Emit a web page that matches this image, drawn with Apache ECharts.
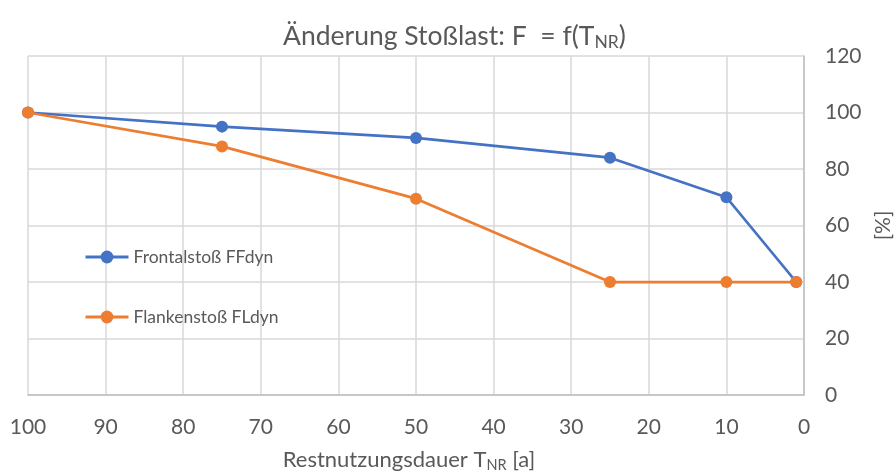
<!DOCTYPE html>
<html>
<head>
<meta charset="utf-8">
<title>Änderung Stoßlast</title>
<script src="https://cdn.jsdelivr.net/npm/echarts@6/dist/echarts.min.js"></script>
<style>
  html, body { margin: 0; padding: 0; background: #ffffff; }
  #chart { width: 894px; height: 472px; }
</style>
</head>
<body>
<div id="chart"></div>
<script>
// Restnutzungsdauer T_NR [a] at which the impact load was evaluated
const restnutzung = [100, 75, 50, 25, 10, 1];
// Stoßlast relative to the new state [%]
const frontalstoss = [100, 95, 91, 84, 70, 40];
const flankenstoss = [100, 88, 69.5, 40, 40, 40];

const seriesNames = ['Frontalstoß FFdyn', 'Flankenstoß FLdyn'];
const seriesColors = ['#4472C4', '#ED7D31'];

const FONT = 'Lato';
const TEXT = '#595959';

function pairs(xs, ys) {
  return xs.map((x, i) => [x, ys[i]]);
}

const chart = echarts.init(document.getElementById('chart'), null, { renderer: 'canvas' });

chart.setOption({
  animation: false,
  backgroundColor: '#ffffff',
  textStyle: { fontFamily: FONT, color: TEXT },
  title: {
    text: '{m|Änderung Stoßlast: F  = f(T}{s|NR}{m|)}',
    left: 278,
    top: 16,
    textStyle: {
      fontWeight: 'normal',
      rich: {
        m: { fontFamily: FONT, fontSize: 26.5, fontWeight: 'normal', color: TEXT, lineHeight: 30 },
        s: { fontFamily: FONT, fontSize: 17.5, fontWeight: 'normal', color: TEXT, lineHeight: 30, verticalAlign: 'bottom' }
      }
    }
  },
  legend: {
    orient: 'vertical',
    left: 79,
    top: 242,
    itemWidth: 43,
    itemHeight: 16,
    itemGap: 40,
    data: seriesNames,
    lineStyle: { width: 3 },
    textStyle: { fontFamily: FONT, fontSize: 17.5, color: TEXT, lineHeight: 20 }
  },
  grid: { left: 28, right: 90, top: 56, bottom: 77, containLabel: false, outerBoundsMode: 'none' },
  xAxis: {
    type: 'value',
    min: 0,
    max: 100,
    interval: 10,
    inverse: true,
    name: '{m|Restnutzungsdauer T}{s|NR}{m| [a]}',
    nameLocation: 'middle',
    nameGap: 52,
    nameTextStyle: {
      padding: [0, 14, 0, 0],
      rich: {
        m: { fontFamily: FONT, fontSize: 22, color: TEXT, lineHeight: 26 },
        s: { fontFamily: FONT, fontSize: 14.5, color: TEXT, lineHeight: 26, verticalAlign: 'bottom' }
      }
    },
    axisLine: { show: true, lineStyle: { color: '#bfbfbf', width: 1.5 } },
    axisTick: { show: false },
    axisLabel: { margin: 22, fontFamily: FONT, fontSize: 21, color: TEXT },
    splitLine: { show: true, lineStyle: { color: '#d9d9d9', width: 1.5 } }
  },
  yAxis: {
    type: 'value',
    position: 'right',
    min: 0,
    max: 120,
    interval: 20,
    name: '[%]',
    nameLocation: 'middle',
    nameRotate: 90,
    nameGap: 69,
    nameTextStyle: { fontFamily: FONT, fontSize: 21, color: TEXT },
    axisLine: { show: true, lineStyle: { color: '#bfbfbf', width: 1.5 } },
    axisTick: { show: false },
    axisLabel: { margin: 21, fontFamily: FONT, fontSize: 21, color: TEXT },
    splitLine: { show: true, lineStyle: { color: '#d9d9d9', width: 1.5 } }
  },
  series: [
    {
      name: seriesNames[0],
      type: 'line',
      data: pairs(restnutzung, frontalstoss),
      color: seriesColors[0],
      symbol: 'circle',
      symbolSize: 12,
      lineStyle: { width: 2.75, color: seriesColors[0] },
      itemStyle: { color: seriesColors[0] },
      z: 2
    },
    {
      name: seriesNames[1],
      type: 'line',
      data: pairs(restnutzung, flankenstoss),
      color: seriesColors[1],
      symbol: 'circle',
      symbolSize: 12,
      lineStyle: { width: 2.75, color: seriesColors[1] },
      itemStyle: { color: seriesColors[1] },
      z: 3
    }
  ]
});
</script>
</body>
</html>
